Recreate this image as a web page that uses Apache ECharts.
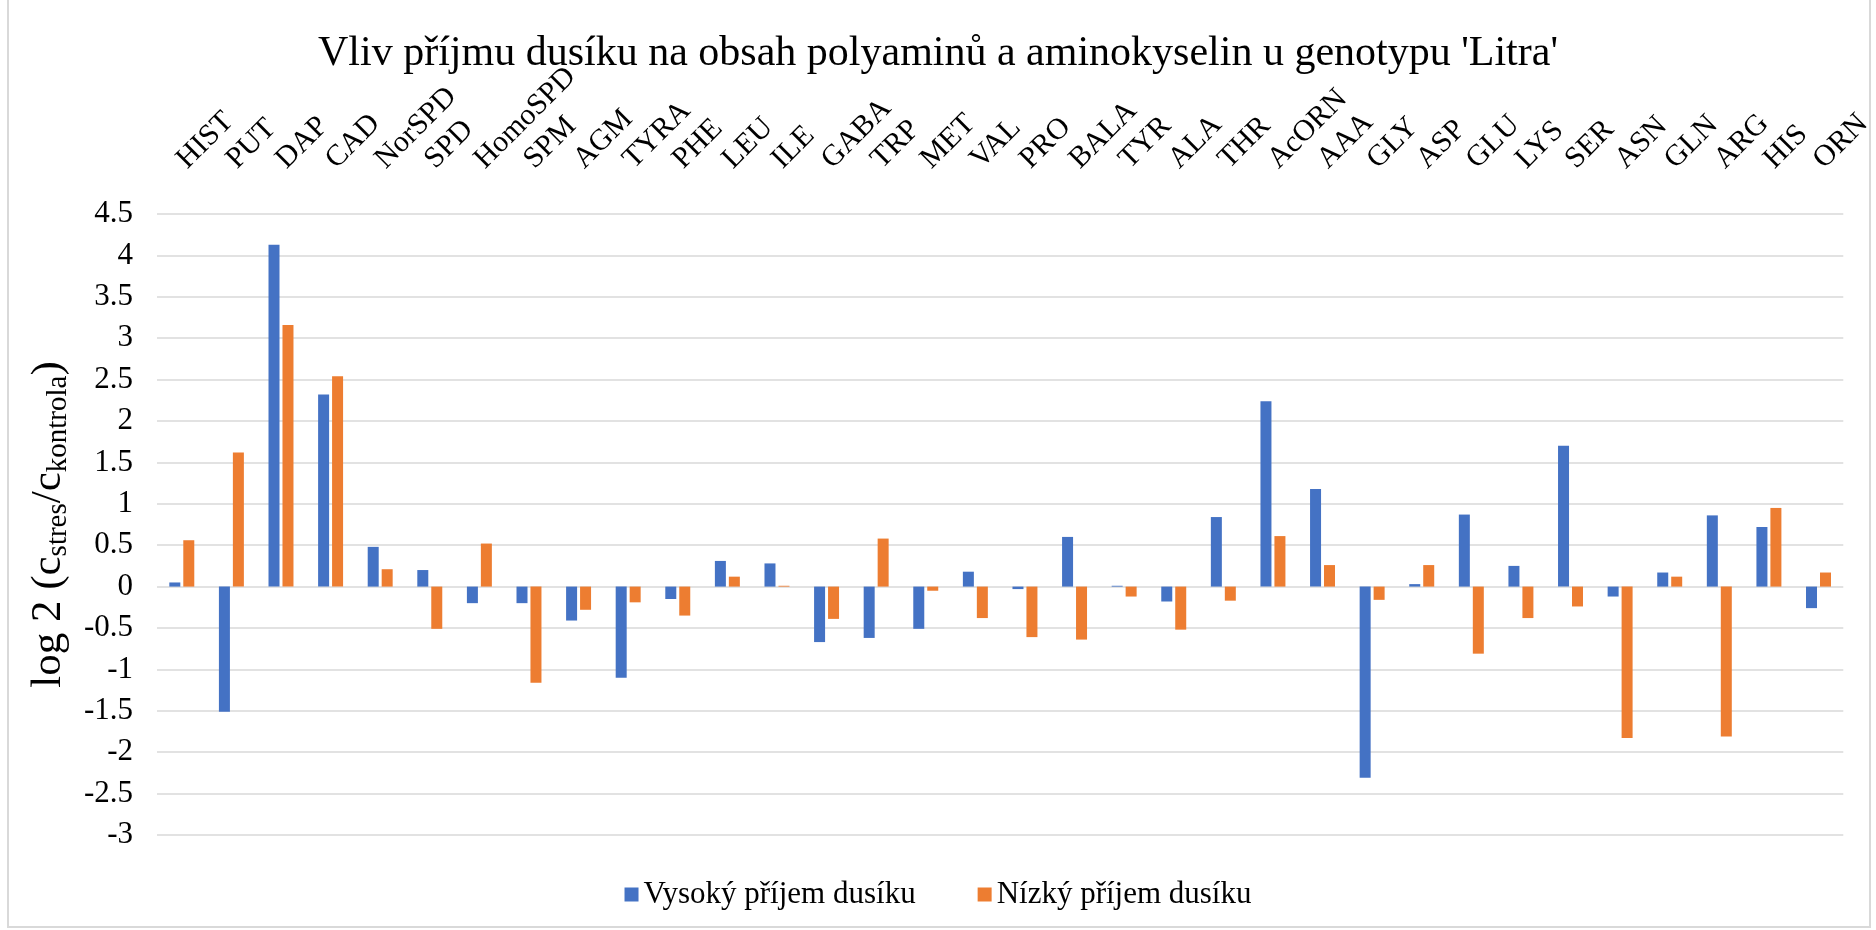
<!DOCTYPE html>
<html>
<head>
<meta charset="utf-8">
<title>Vliv příjmu dusíku – Litra</title>
<script src="https://cdn.jsdelivr.net/npm/echarts@6/dist/echarts.min.js"></script>
<style>
    html, body { margin: 0; padding: 0; background: #fff; }
    #chart { width: 1876px; height: 930px; }
</style>
</head>
<body>
<div id="chart"></div>
<script>
var categories = ['HIST', 'PUT', 'DAP', 'CAD', 'NorSPD', 'SPD', 'HomoSPD', 'SPM', 'AGM', 'TYRA',
    'PHE', 'LEU', 'ILE', 'GABA', 'TRP', 'MET', 'VAL', 'PRO', 'BALA', 'TYR', 'ALA', 'THR',
    'AcORN', 'AAA', 'GLY', 'ASP', 'GLU', 'LYS', 'SER', 'ASN', 'GLN', 'ARG', 'HIS', 'ORN'];

var seriesNames = ['Vysoký příjem dusíku', 'Nízký příjem dusíku'];

// log2 ratios
var highN = [0.05, -1.51, 4.13, 2.32, 0.48, 0.20, -0.20, -0.20, -0.41, -1.10,
    -0.15, 0.31, 0.28, -0.67, -0.62, -0.51, 0.18, -0.03, 0.60, 0.01, -0.18, 0.84,
    2.24, 1.18, -2.31, 0.03, 0.87, 0.25, 1.70, -0.12, 0.17, 0.86, 0.72, -0.26];

var lowN = [0.56, 1.62, 3.16, 2.54, 0.21, -0.51, 0.52, -1.16, -0.28, -0.19,
    -0.35, 0.12, 0.01, -0.39, 0.58, -0.05, -0.38, -0.61, -0.64, -0.12, -0.52, -0.17,
    0.61, 0.26, -0.16, 0.26, -0.81, -0.38, -0.24, -1.83, 0.12, -1.81, 0.95, 0.17];

(function () {

    'use strict';

    var serif = 'Liberation Serif';
    var chart = echarts.init(document.getElementById('chart'));

    var option = {
        backgroundColor: '#fff',
        color: ['#4472C4', '#ED7D31'],
        textStyle: {
            fontFamily: serif
        },
        title: {
            text: "Vliv příjmu dusíku na obsah polyaminů a aminokyselin u genotypu 'Litra'",
            left: 'center',
            top: 28,
            textStyle: {
                fontFamily: serif,
                fontSize: 42,
                fontWeight: 'normal',
                color: '#000'
            }
        },
        legend: {
            data: seriesNames,
            left: 'center',
            top: 874,
            itemWidth: 14,
            itemHeight: 14,
            itemGap: 62,
            icon: 'rect',
            textStyle: {
                fontFamily: serif,
                fontSize: 31,
                color: '#000'
            }
        },
        grid: {
            left: 157,
            right: 31,
            top: 214,
            bottom: 95,
            containLabel: false
        },
        xAxis: {
            type: 'category',
            position: 'top',
            data: categories,
            axisLine: { show: false },
            axisTick: { show: false },
            axisLabel: {
                interval: 0,
                rotate: 45,
                margin: 50,
                fontFamily: serif,
                fontSize: 30,
                color: '#000'
            }
        },
        yAxis: {
            type: 'value',
            min: -3,
            max: 4.5,
            interval: 0.5,
            axisLine: { show: false },
            axisTick: { show: false },
            axisLabel: {
                margin: 24,
                fontFamily: serif,
                fontSize: 31,
                color: '#000'
            },
            splitLine: {
                lineStyle: { color: '#d9d9d9', width: 1.5 }
            },
            name: 'log 2 (c{s|stres}/c{s|kontrola})',
            nameLocation: 'middle',
            nameRotate: 90,
            nameGap: 76,
            nameTextStyle: {
                fontFamily: serif,
                fontSize: 43,
                color: '#000',
                rich: {
                    s: {
                        fontFamily: serif,
                        fontSize: 29,
                        color: '#000',
                        padding: [20, 0, 0, 0]
                    }
                }
            }
        },
        series: [{
            name: seriesNames[0],
            type: 'bar',
            data: highN,
            barWidth: 11,
            barGap: '27%'
        }, {
            name: seriesNames[1],
            type: 'bar',
            data: lowN,
            barWidth: 11,
            barGap: '27%'
        }],
        graphic: [{
            type: 'rect',
            shape: { x: 8, y: -5, width: 1862, height: 932 },
            style: { fill: 'none', stroke: '#d9d9d9', lineWidth: 2 },
            silent: true
        }]
    };

    chart.setOption(option);
}) ();
</script>
</body>
</html>
